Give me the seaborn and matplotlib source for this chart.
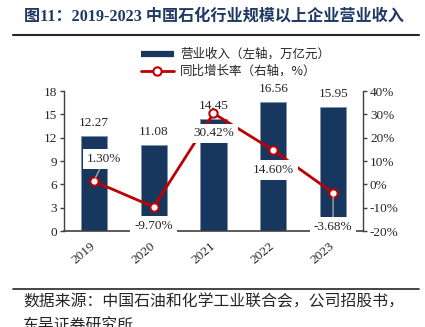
import matplotlib
matplotlib.use('Agg')
import matplotlib.pyplot as plt
import seaborn as sns
import pandas as pd
import numpy as np
from matplotlib.lines import Line2D
from matplotlib.ticker import FuncFormatter

# ---- data ----
years = ['2019', '2020', '2021', '2022', '2023']
revenue = [12.27, 11.08, 14.45, 16.56, 15.95]
growth = [1.30, -9.70, 30.42, 14.60, -3.68]
revenue_labels = ['12.27', '11.08', '14.45', '16.56', '15.95']
growth_labels = ['1.30%', '-9.70%', '30.42%', '14.60%', '-3.68%']
left_ticks = [0, 3, 6, 9, 12, 15, 18]
right_ticks = [-20, -10, 0, 10, 20, 30, 40]
legend_labels = ['营业收入（左轴，万亿元）', '同比增长率（右轴，%）']
title = '图11：2019-2023 中国石化行业规模以上企业营业收入'
source1 = '数据来源：中国石油和化学工业联合会，公司招股书，'
source2 = '东吴证券研究所'

navy = '#17375E'
red = '#C00000'
axis_c = '#404040'

sns.set_theme(style='white')
plt.rcParams['font.family'] = ['Liberation Serif', 'Noto Sans CJK SC', 'DejaVu Sans']

W, H = 425, 327
fig = plt.figure(figsize=(W / 100, H / 100), dpi=100)
ax = fig.add_axes([64 / W, 1 - 231 / H, (363 - 64) / W, 140 / H])

df = pd.DataFrame({'year': years, 'revenue': revenue, 'growth': growth})
sns.barplot(data=df, x='year', y='revenue', ax=ax, color=navy, saturation=1,
            width=0.435, edgecolor='#8193AD', linewidth=0.6)
ax.set_xlim(-0.5, len(years) - 0.5)
ax.set_ylim(0, 18)
ax.set_yticks(left_ticks)
ax.set_xlabel('')
ax.set_ylabel('')
ax.bar_label(ax.containers[0], labels=revenue_labels, padding=5, fontsize=9.5,
             color='#262626')

for s in ['top', 'right']:
    ax.spines[s].set_visible(False)
ax.spines['left'].set_color(axis_c)
ax.spines['left'].set_linewidth(1.0)
ax.spines['bottom'].set_color(axis_c)
ax.spines['bottom'].set_linewidth(1.2)
ax.tick_params(axis='y', direction='out', length=3, width=1, color=axis_c,
               labelsize=9.5, pad=2, labelcolor='#262626', left=True)
ax.tick_params(axis='x', length=0, labelsize=9.5, pad=10, labelcolor='#262626')
for lab in ax.get_xticklabels():
    lab.set_rotation(40)
    lab.set_ha('right')
    lab.set_va('center')
    lab.set_rotation_mode('anchor')

ax2 = ax.twinx()
sns.lineplot(x=np.arange(len(years)), y=growth, ax=ax2, color=red, linewidth=2,
             marker='o', markersize=6, markerfacecolor='white',
             markeredgecolor=red, markeredgewidth=1.5)
ax2.set_ylim(-20, 40)
ax2.set_yticks(right_ticks)
ax2.yaxis.set_major_formatter(FuncFormatter(lambda v, p: f'{int(v)}%'))
for s in ['top', 'left', 'bottom']:
    ax2.spines[s].set_visible(False)
ax2.spines['right'].set_color(axis_c)
ax2.spines['right'].set_linewidth(1.0)
ax2.tick_params(axis='y', direction='out', length=3, width=1, color=axis_c,
                labelsize=9.5, pad=2, labelcolor='#262626', right=True)

offsets = [(7.5, 16), (0, -14), (0, -14.5), (0, -14.5), (0, -24.5)]
leaders = [True, False, False, False, True]
for i, (g, lab) in enumerate(zip(growth, growth_labels)):
    kw = {}
    if leaders[i]:
        kw['arrowprops'] = dict(arrowstyle='-', color='#A6A6A6', lw=1,
                                shrinkA=0, shrinkB=3)
    ax2.annotate(lab, xy=(i, g), xytext=offsets[i], textcoords='offset points',
                 ha='center', va='center', fontsize=9.5, color='#262626',
                 bbox=dict(boxstyle='square,pad=0.3', fc='white', ec='none'),
                 zorder=6, **kw)

handles = [Line2D([], [], color=navy, lw=4.5, solid_capstyle='butt'),
           Line2D([], [], color=red, lw=2, marker='o', markersize=6,
                  markerfacecolor='white', markeredgecolor=red, markeredgewidth=1.5)]
fig.legend(handles, legend_labels, loc='upper left',
           bbox_to_anchor=(141 / W, 1 - 48 / H), frameon=False,
           prop={'family': ['Noto Sans CJK SC'], 'size': 9},
           handlelength=2.6, handletextpad=0.5, labelspacing=0.33,
           borderpad=0, borderaxespad=0, labelcolor='#262626')

fig.text(24 / W, 1 - 17 / H, title, fontsize=11.6, fontweight='bold',
         color='#1F3864', va='center', ha='left')
fig.add_artist(Line2D([13 / W, 419 / W], [1 - 35 / H] * 2, color='#262626', lw=1.5))
fig.add_artist(Line2D([13 / W, 419 / W], [1 - 289 / H] * 2, color='#262626', lw=1.2))
fig.text(23 / W, 1 - 302 / H, source1, fontsize=11.4, color='#262626',
         va='center', ha='left', family=['Noto Sans CJK SC'])
fig.text(23 / W, 1 - 318 / H, source2, fontsize=11.4, color='#262626',
         va='top', ha='left', family=['Noto Sans CJK SC'])

fig.savefig('out.png', dpi=100)
